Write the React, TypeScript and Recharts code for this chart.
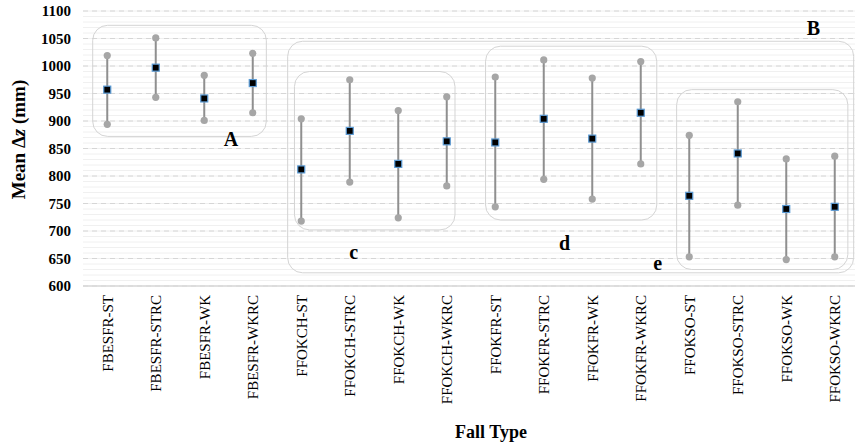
import {
  ComposedChart,
  Line,
  XAxis,
  YAxis,
  CartesianGrid,
  ReferenceArea,
  ReferenceDot,
  ErrorBar,
} from 'recharts';

const categories = [
  'FBESFR-ST', 'FBESFR-STRC', 'FBESFR-WK', 'FBESFR-WKRC',
  'FFOKCH-ST', 'FFOKCH-STRC', 'FFOKCH-WK', 'FFOKCH-WKRC',
  'FFOKFR-ST', 'FFOKFR-STRC', 'FFOKFR-WK', 'FFOKFR-WKRC',
  'FFOKSO-ST', 'FFOKSO-STRC', 'FFOKSO-WK', 'FFOKSO-WKRC',
];
const means = [957, 997, 941, 969, 812, 882, 822, 863, 861, 904, 868, 915, 764, 841, 740, 744];
const highs = [1019, 1051, 983, 1023, 904, 975, 919, 944, 980, 1011, 978, 1008, 874, 935, 831, 836];
const lows = [894, 943, 901, 915, 718, 789, 724, 782, 744, 794, 758, 822, 653, 747, 648, 653];
const yTicks = [600, 650, 700, 750, 800, 850, 900, 950, 1000, 1050, 1100];
const minorTicks = Array.from({ length: 51 }, (_, i) => 600 + i * 10);

// group outlines: [x1, x2, y1, y2] in data units
const boxes = [
  [-0.3, 3.28, 872, 1074],
  [3.72, 15.39, 624, 1045],
  [3.86, 7.17, 702, 990],
  [7.8, 11.33, 720, 1036],
  [11.74, 15.27, 630, 957],
];
const boxLabels = [
  { text: 'A', x: 2.55, y: 868 },
  { text: 'B', x: 14.56, y: 1070 },
  { text: 'c', x: 5.08, y: 662 },
  { text: 'd', x: 9.43, y: 678 },
  { text: 'e', x: 11.35, y: 642 },
];

const data = categories.map((c, i) => ({
  idx: i,
  name: c,
  mean: means[i],
  high: highs[i],
  low: lows[i],
}));

const FONT = 'Liberation Serif, Times New Roman, serif';

const Square = (p: any) => {
  if (p.cx == null || p.cy == null) return null;
  return (
    <rect x={p.cx - 3.5} y={p.cy - 3.5} width={7} height={7} fill="#000" stroke="#5b9bd5" strokeWidth={1.2} />
  );
};

const Cap = (p: any) => {
  if (p.cx == null || p.cy == null) return null;
  return <circle cx={p.cx} cy={p.cy} r={3.6} fill="#a6a6a6" />;
};

const XTick = (p: any) => {
  const { x, y, payload } = p;
  return (
    <text
      x={x}
      y={y + 1}
      transform={`rotate(-90, ${x}, ${y + 1})`}
      textAnchor="end"
      dy="0.35em"
      style={{ fontFamily: FONT, fontSize: 15 }}
      fill="#000"
    >
      {categories[payload.value]}
    </text>
  );
};

const RoundBox = (p: any) => (
  <rect x={p.x} y={p.y} width={p.width} height={p.height} rx={15} ry={15} fill="none" stroke="#d4d4d4" strokeWidth={1} />
);

export default function App() {
  return (
    <div style={{ position: 'absolute', left: 0, top: 0, width: 855, height: 443, overflow: 'hidden', background: '#fff', fontFamily: FONT }}>
      <ComposedChart width={862} height={443} data={data} margin={{ top: 11, right: 3, bottom: 0, left: 0 }} style={{ fontFamily: FONT }}>
        <CartesianGrid horizontalValues={minorTicks} vertical={false} stroke="#f0f0f0" />
        <CartesianGrid horizontalValues={yTicks} vertical={false} stroke="#d6d6d6" strokeDasharray="5 4" />
        <XAxis
          dataKey="idx"
          type="number"
          domain={[-0.5, 15.5]}
          ticks={categories.map((_, i) => i)}
          interval={0}
          tick={<XTick />}
          tickLine={false}
          axisLine={{ stroke: '#d9d9d9', strokeWidth: 1.5 }}
          height={157}
          label={{
            content: (props: any) => {
              const vb = props.viewBox;
              return (
                <text
                  x={vb.x + vb.width / 2 + 20}
                  y={432}
                  textAnchor="middle"
                  dominantBaseline="central"
                  style={{ fontFamily: FONT, fontWeight: 'bold', fontSize: 18 }}
                  fill="#000"
                >
                  Fall Type
                </text>
              );
            },
          }}
        />
        <YAxis
          type="number"
          domain={[600, 1100]}
          ticks={yTicks}
          interval={0}
          width={83}
          tickLine={false}
          tickSize={0}
          tickMargin={12}
          axisLine={false}
          tick={{ style: { fontFamily: FONT, fontWeight: 'bold', fontSize: 15 }, fill: '#000' }}
          label={{
            content: (props: any) => {
              const vb = props.viewBox;
              const cx = 18;
              const cy = vb.y + vb.height / 2 - 9;
              return (
                <text
                  x={cx}
                  y={cy}
                  transform={`rotate(-90, ${cx}, ${cy})`}
                  textAnchor="middle"
                  dominantBaseline="central"
                  style={{ fontFamily: FONT, fontWeight: 'bold', fontSize: 19 }}
                  fill="#000"
                >
                  Mean Δ<tspan fontStyle="italic">z</tspan> (mm)
                </text>
              );
            },
          }}
        />
        {boxes.map((b, i) => (
          <ReferenceArea
            key={`box-${i}`}
            x1={b[0]}
            x2={b[1]}
            y1={b[2]}
            y2={b[3]}
            ifOverflow="visible"
            shape={RoundBox}
          />
        ))}
        {boxLabels.map((l) => (
          <ReferenceDot
            key={l.text}
            x={l.x}
            y={l.y}
            r={0}
            fill="none"
            stroke="none"
            ifOverflow="visible"
            label={{
              value: l.text,
              position: 'center',
              style: { fontFamily: FONT, fontWeight: 'bold', fontSize: 20 },
              fill: '#000',
            }}
          />
        ))}
        <Line
          dataKey="mean"
          stroke="none"
          isAnimationActive={false}
          dot={false}
          activeDot={false}
        >
          <ErrorBar
            dataKey={(d: any) => [d.mean - d.low, d.high - d.mean]}
            width={0}
            stroke="#8f8f8f"
            strokeWidth={2}
            direction="y"
          />
        </Line>
        <Line dataKey="high" stroke="none" isAnimationActive={false} dot={<Cap />} activeDot={false} />
        <Line dataKey="low" stroke="none" isAnimationActive={false} dot={<Cap />} activeDot={false} />
        <Line dataKey="mean" stroke="none" isAnimationActive={false} dot={<Square />} activeDot={false} />
      </ComposedChart>
    </div>
  );
}
